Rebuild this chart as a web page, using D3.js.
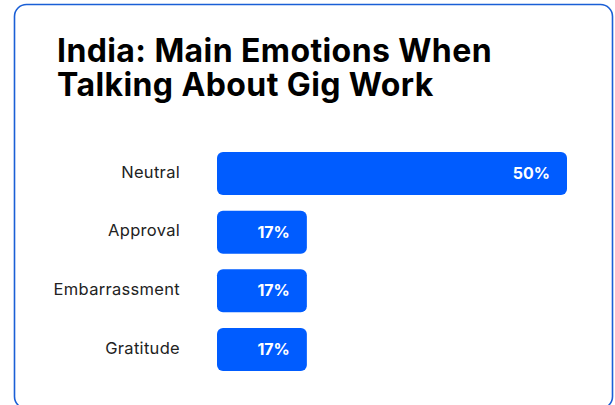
<!DOCTYPE html>
<html>
<head>
<meta charset="utf-8">
<script src="https://cdn.jsdelivr.net/npm/d3@7"></script>
<style>
  html, body { margin: 0; padding: 0; background: #fff; }
  svg { display: block; }
</style>
</head>
<body>
<svg id="chart" width="615" height="405"></svg>
<script>
const categories = ["Neutral", "Approval", "Embarrassment", "Gratitude"];
const values = [50, 17, 17, 17];
const valueLabels = ["50%", "17%", "17%", "17%"];
const titleLines = ["India: Main Emotions When", "Talking About Gig Work"];

const svg = d3.select("#chart");

svg.append("rect")
  .attr("x", 14.5).attr("y", 4.5)
  .attr("width", 598).attr("height", 404)
  .attr("rx", 12).attr("ry", 12)
  .attr("fill", "#fff")
  .attr("stroke", "#1a5fd6")
  .attr("stroke-width", 1.6);

const title = svg.append("text")
  .attr("x", 57)
  .attr("y", 62)
  .attr("font-family", "Inter, 'Noto Sans', sans-serif")
  .attr("font-weight", 700)
  .attr("font-size", 32)
  .attr("letter-spacing", 0.4)
  .attr("fill", "#000");
title.selectAll("tspan")
  .data(titleLines).join("tspan")
  .attr("x", 57)
  .attr("y", (d, i) => 62 + i * 34)
  .text(d => d);

const x = d3.scaleLinear().domain([5.6, 50]).range([217, 567]);
const y = d3.scaleBand().domain(categories).range([152, 371]).paddingInner(0.267).paddingOuter(0);

const g = svg.append("g");
const rows = categories.map((c, i) => ({ c, v: values[i], l: valueLabels[i] }));

g.selectAll("rect.bar").data(rows).join("rect")
  .attr("class", "bar")
  .attr("x", x(5.6))
  .attr("y", d => y(d.c))
  .attr("width", d => x(d.v) - x(5.6))
  .attr("height", y.bandwidth())
  .attr("rx", 6).attr("ry", 6)
  .attr("fill", "#005cff");

g.selectAll("text.cat").data(rows).join("text")
  .attr("class", "cat")
  .attr("x", 180)
  .attr("y", d => y(d.c) + y.bandwidth() / 2 - 1.5)
  .attr("dy", "0.35em")
  .attr("text-anchor", "end")
  .attr("font-family", "Inter, 'Noto Sans', sans-serif")
  .attr("font-size", 16.5)
  .attr("letter-spacing", 0.3)
  .attr("fill", "#222")
  .text(d => d.c);

g.selectAll("text.val").data(rows).join("text")
  .attr("class", "val")
  .attr("x", d => x(d.v) - 17)
  .attr("y", d => y(d.c) + y.bandwidth() / 2)
  .attr("dy", "0.35em")
  .attr("text-anchor", "end")
  .attr("font-family", "Inter, 'Noto Sans', sans-serif")
  .attr("font-weight", 700)
  .attr("font-size", 16)
  .attr("fill", "#fff")
  .text(d => d.l);
</script>
</body>
</html>
